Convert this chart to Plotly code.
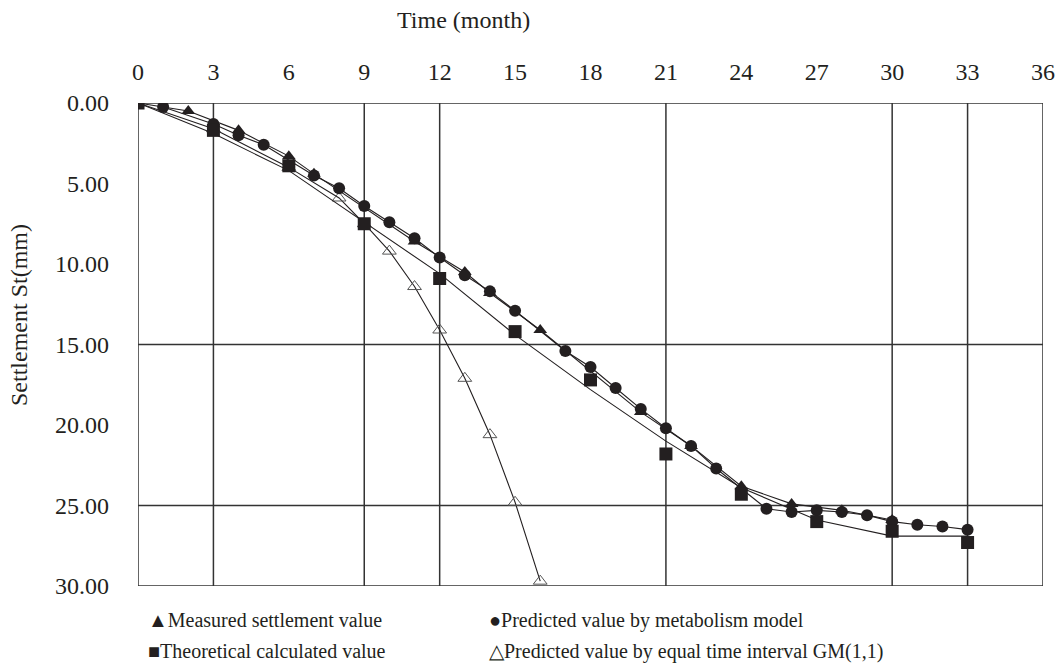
import plotly.graph_objects as go

# ---- data (months, settlement in mm) ----
measured_month = [0, 2, 4, 6, 7, 11, 13, 14, 16, 20, 22, 24, 26, 28, 30]
measured_value = [0.0, 0.5, 1.7, 3.3, 4.4, 8.6, 10.5, 11.8, 14.1, 19.2, 21.3, 23.8, 24.9, 25.3, 25.9]

metab_month = [1, 3, 4, 5, 7, 8, 9, 10, 11, 12, 13, 14, 15, 17, 18, 19, 20, 21, 22, 23,
               25, 26, 27, 28, 29, 30, 31, 32, 33]
metab_value = [0.25, 1.3, 2.0, 2.6, 4.5, 5.3, 6.4, 7.4, 8.4, 9.6, 10.7, 11.7, 12.9, 15.4,
               16.4, 17.7, 19.0, 20.2, 21.3, 22.7, 25.2, 25.4, 25.3, 25.4, 25.6, 26.0,
               26.2, 26.3, 26.5]

theory_month = [0, 3, 6, 9, 12, 15, 18, 21, 24, 27, 30, 33]
theory_value = [0.0, 1.7, 3.9, 7.5, 10.9, 14.2, 17.2, 21.8, 24.3, 26.0, 26.6, 27.3]
theory_curve = [0.0, 1.9, 4.2, 7.4, 10.6, 14.4, 17.8, 21.0, 23.9, 25.9, 26.9, 26.9]

gm_month = [0, 3, 6, 8, 9, 10, 11, 12, 13, 14, 15, 16]
gm_value = [0.0, 1.6, 4.0, 5.9, 7.5, 9.2, 11.4, 14.1, 17.1, 20.6, 24.8, 29.7]

x_ticks = list(range(0, 37, 3))
y_ticks = [0, 5, 10, 15, 20, 25, 30]
v_grid = [3, 9, 12, 21, 30, 33]
h_grid = [15, 25]

legend_labels = ["▲Measured settlement value", "●Predicted value by metabolism model",
                 "■Theoretical calculated value", "△Predicted value by equal time interval GM(1,1)"]

FONT = "Liberation Serif"
LINE = "#231f20"

W, H = 1057, 670
L, T, R, B = 138, 103, 1043, 586
PW, PH = R - L, B - T


def px_x(px):
    return (px - L) / PW


def px_y(py):
    return 1 - (py - T) / PH


fig = go.Figure()

fig.add_trace(go.Scatter(x=gm_month, y=gm_value, mode="lines+markers",
                         line=dict(color=LINE, width=1.1),
                         marker=dict(symbol="triangle-up-open", size=12, color="#555555",
                                     line=dict(width=1, color="#555555"))))
fig.add_trace(go.Scatter(x=theory_month, y=theory_curve, mode="lines",
                         line=dict(color=LINE, width=1.1)))
fig.add_trace(go.Scatter(x=measured_month, y=measured_value, mode="lines+markers",
                         line=dict(color=LINE, width=1.1),
                         marker=dict(symbol="triangle-up", size=12, color=LINE)))
fig.add_trace(go.Scatter(x=metab_month, y=metab_value, mode="lines+markers",
                         line=dict(color=LINE, width=1.1),
                         marker=dict(symbol="circle", size=12, color=LINE)))
fig.add_trace(go.Scatter(x=theory_month, y=theory_value, mode="markers",
                         marker=dict(symbol="square", size=13, color=LINE)))

for gx in v_grid:
    fig.add_shape(type="line", xref="x", yref="y", x0=gx, x1=gx, y0=0, y1=30,
                  line=dict(color="#333333", width=1.5), layer="below")
for gy in h_grid:
    fig.add_shape(type="line", xref="x", yref="y", x0=0, x1=36, y0=gy, y1=gy,
                  line=dict(color="#333333", width=1.5), layer="below")
fig.add_shape(type="rect", xref="x", yref="y", x0=0, x1=36, y0=0, y1=30,
              line=dict(color="#333333", width=1.5), layer="below")

fig.update_xaxes(range=[0, 36], side="top", tickvals=x_ticks, ticktext=[str(v) for v in x_ticks],
                 showgrid=False, zeroline=False, showline=False, ticks="", automargin=False,
                 ticklabelstandoff=17, tickfont=dict(family=FONT, size=24, color="#231f20"))
fig.update_yaxes(range=[30, 0], tickvals=y_ticks, ticktext=[f"{v:.2f}" for v in y_ticks],
                 showgrid=False, zeroline=False, showline=False, ticks="", automargin=False,
                 ticklabelstandoff=28, tickfont=dict(family=FONT, size=24, color="#231f20"))

fig.add_annotation(text="Time (month)", xref="paper", yref="paper", x=px_x(463),
                   y=px_y(20), xanchor="center", yanchor="middle", showarrow=False,
                   font=dict(family=FONT, size=24, color="#231f20"))
fig.add_annotation(text="Settlement St(mm)", xref="paper", yref="paper", x=px_x(19),
                   y=px_y(315), xanchor="center", yanchor="middle", showarrow=False,
                   textangle=-90, font=dict(family=FONT, size=24, color="#231f20"))

leg_pos = [(146, 620), (487, 620), (146, 651), (487, 651)]
for lbl, (px, py) in zip(legend_labels, leg_pos):
    fig.add_annotation(text=lbl, xref="paper", yref="paper", x=px_x(px),
                       y=px_y(py), xanchor="left", yanchor="middle", showarrow=False,
                       font=dict(family=FONT, size=20, color="#231f20"))

fig.update_layout(width=W, height=H, margin=dict(l=L, r=W - R, t=T, b=H - B),
                  paper_bgcolor="white", plot_bgcolor="white", showlegend=False)

fig.write_html("out.html", config={"displayModeBar": False},
               post_script="document.body.style.margin='0';document.body.style.overflow='hidden';")
